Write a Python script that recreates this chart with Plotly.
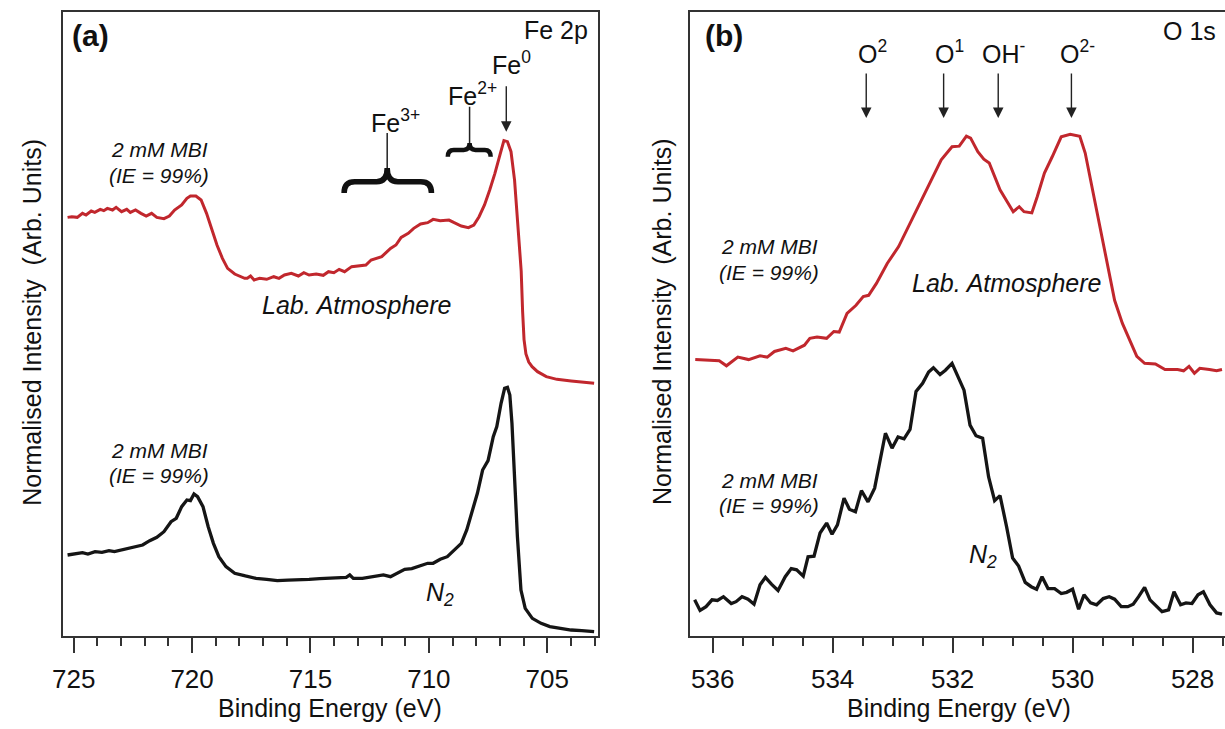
import plotly.graph_objects as go

# ---------------- data ----------------
# Fe 2p region (binding energy in eV, normalised intensity in arbitrary units)
fe_air_be = [725.26, 725.08, 724.85, 724.63, 724.48, 724.26, 724.11, 723.88, 723.73, 723.58,
             723.36, 723.21, 722.98, 722.76, 722.61, 722.39, 722.16, 721.94, 721.71, 721.49,
             721.19, 720.96, 720.74, 720.44, 720.22, 720.07, 719.84, 719.62, 719.39, 719.17,
             718.95, 718.72, 718.50, 718.20, 717.97, 717.78, 717.67, 717.53, 717.38, 717.15,
             716.85, 716.55, 716.33, 716.10, 715.81, 715.51, 715.28, 715.06, 714.76, 714.46,
             714.24, 714.01, 713.79, 713.56, 713.26, 712.96, 712.66, 712.44, 712.22, 711.99,
             711.62, 711.39, 711.17, 710.87, 710.64, 710.35, 710.05, 709.82, 709.52, 709.15,
             708.93, 708.63, 708.33, 708.10, 707.88, 707.65, 707.43, 707.21, 706.98, 706.83,
             706.68, 706.53, 706.38, 706.23, 706.10, 706.04, 705.98, 705.90, 705.78, 705.64,
             705.41, 705.04, 704.59, 703.99, 703.54, 703.02]
fe_air_int = [67.09, 67.20, 67.09, 67.73, 67.46, 68.11, 67.89, 68.37, 68.16, 68.53,
              68.27, 68.69, 68.00, 68.37, 67.89, 68.27, 67.73, 67.30, 67.73, 67.09,
              66.88, 67.30, 68.27, 69.07, 70.14, 70.51, 70.51, 69.87, 67.73, 65.06,
              62.66, 60.52, 58.92, 58.01, 57.69, 57.32, 57.32, 57.69, 57.05, 57.32,
              57.16, 57.58, 57.32, 57.85, 58.12, 57.69, 58.22, 57.85, 58.01, 57.80,
              58.38, 58.22, 58.76, 58.38, 59.19, 59.29, 59.45, 60.25, 60.52, 60.79,
              62.12, 62.66, 63.89, 64.53, 65.33, 66.02, 66.24, 66.77, 66.56, 66.66,
              66.24, 65.70, 65.44, 65.86, 67.20, 69.07, 71.47, 74.14, 77.35, 79.38,
              79.22, 77.61, 73.07, 65.60, 58.50, 52.00, 47.50, 45.20, 43.90, 43.16,
              42.36, 41.56, 41.13, 40.87, 40.65, 40.49]

fe_n2_be = [725.26, 724.93, 724.63, 724.40, 724.10, 723.81, 723.51, 723.28, 722.98, 722.69,
            722.39, 722.09, 721.79, 721.49, 721.19, 720.89, 720.67, 720.44, 720.22, 720.07,
            719.92, 719.77, 719.54, 719.32, 719.10, 718.87, 718.57, 718.20, 717.75, 717.30,
            716.85, 716.40, 715.95, 715.51, 715.06, 714.61, 714.01, 713.49, 713.34, 713.19,
            712.81, 712.37, 711.92, 711.62, 711.32, 711.02, 710.72, 710.35, 710.05, 709.82,
            709.52, 709.22, 708.93, 708.63, 708.40, 708.18, 707.95, 707.73, 707.50, 707.28,
            707.13, 706.95, 706.80, 706.68, 706.58, 706.49, 706.38, 706.26, 706.11, 705.93,
            705.63, 705.26, 704.89, 704.44, 703.99, 703.54, 703.02]
fe_n2_int = [12.98, 13.25, 13.36, 13.14, 13.52, 13.41, 13.68, 13.52, 13.78, 14.05,
             14.32, 14.58, 15.28, 15.81, 16.72, 18.32, 18.86, 20.73, 21.80, 21.69,
             22.76, 22.33, 20.73, 17.52, 14.85, 12.71, 11.11, 10.04, 9.62, 9.24,
             9.08, 8.87, 8.97, 8.97, 9.08, 9.19, 9.24, 9.40, 9.78, 9.24,
             9.24, 9.51, 9.78, 9.51, 10.15, 10.68, 10.79, 11.22, 11.65, 11.65,
             12.29, 12.71, 13.68, 14.85, 16.99, 19.93, 22.87, 26.60, 28.10, 31.95,
             33.55, 37.29, 39.69, 39.85, 38.62, 34.08, 25.00, 15.92, 7.37, 4.43,
             2.83, 2.03, 1.50, 1.23, 0.96, 0.86, 0.70]

# O 1s region
o_air_be = [536.29, 536.11, 535.89, 535.77, 535.58, 535.40, 535.21, 535.09, 534.97, 534.78,
            534.66, 534.47, 534.38, 534.26, 534.10, 533.98, 533.89, 533.76, 533.61, 533.49,
            533.40, 533.27, 533.09, 532.90, 532.68, 532.53, 532.38, 532.19, 532.01, 531.89,
            531.77, 531.70, 531.58, 531.48, 531.39, 531.21, 530.99, 530.89, 530.81, 530.68,
            530.59, 530.47, 530.34, 530.19, 530.04, 529.88, 529.79, 529.70, 529.57, 529.42,
            529.30, 529.17, 529.05, 528.93, 528.80, 528.62, 528.46, 528.25, 528.15, 528.06,
            527.97, 527.88, 527.72, 527.60, 527.51]
o_air_int = [44.3, 44.2, 44.1, 43.3, 44.7, 44.3, 44.9, 44.7, 45.6, 46.1,
             45.7, 46.6, 47.7, 47.9, 47.7, 48.8, 48.7, 51.7, 53.0, 54.4,
             54.6, 56.5, 59.7, 62.4, 66.7, 69.9, 72.8, 76.3, 78.4, 78.5,
             80.1, 79.8, 77.6, 76.4, 75.8, 71.5, 68.0, 68.8, 68.0, 67.8,
             70.4, 74.2, 76.8, 80.0, 80.4, 80.1, 77.4, 73.1, 67.2, 59.7,
             53.8, 50.1, 47.4, 44.8, 43.7, 43.6, 42.7, 42.7, 42.5, 43.2,
             42.1, 42.9, 42.7, 42.5, 42.7]

o_n2_be = [536.30, 536.21, 536.11, 536.01, 535.92, 535.82, 535.69, 535.61, 535.51, 535.41,
           535.31, 535.21, 535.12, 535.02, 534.91, 534.79, 534.69, 534.60, 534.49, 534.41,
           534.31, 534.21, 534.10, 534.01, 533.92, 533.81, 533.72, 533.62, 533.52, 533.41,
           533.30, 533.21, 533.12, 533.01, 532.91, 532.81, 532.71, 532.61, 532.50, 532.40,
           532.32, 532.21, 532.12, 532.01, 531.91, 531.81, 531.71, 531.61, 531.50, 531.40,
           531.30, 531.21, 531.10, 531.00, 530.90, 530.79, 530.69, 530.60, 530.51, 530.41,
           530.30, 530.19, 530.10, 530.00, 529.90, 529.81, 529.70, 529.60, 529.49, 529.39,
           529.30, 529.19, 529.08, 528.99, 528.90, 528.80, 528.71, 528.62, 528.51, 528.40,
           528.31, 528.20, 528.11, 528.01, 527.91, 527.82, 527.71, 527.60, 527.51]
o_n2_int = [5.8, 4.1, 4.7, 5.8, 5.7, 6.3, 5.2, 5.5, 6.3, 5.9,
            5.1, 8.2, 9.4, 8.3, 7.3, 9.5, 10.8, 10.6, 9.6, 12.7,
            12.8, 16.5, 18.1, 16.3, 17.8, 22.1, 20.3, 19.9, 23.3, 21.5,
            23.7, 28.2, 32.5, 30.1, 31.9, 31.6, 33.1, 39.2, 40.5, 42.3,
            43.0, 41.9, 42.6, 43.7, 41.6, 39.4, 33.8, 32.1, 31.7, 25.5,
            21.7, 22.5, 17.5, 12.5, 11.2, 8.6, 7.9, 7.5, 9.5, 7.6,
            7.6, 6.8, 7.0, 7.5, 4.3, 6.6, 5.3, 5.0, 6.0, 6.3,
            5.9, 4.7, 4.7, 5.1, 6.3, 7.8, 5.8, 5.0, 3.9, 4.2,
            7.1, 5.0, 5.3, 5.2, 6.6, 7.1, 5.0, 3.7, 3.5]

# peak markers
fe0_be = 706.73
fe2_be = 708.28
fe2_span = (709.20, 707.39)
fe3_be = 711.76
fe3_span = (713.58, 709.89)
o_marker_be = [533.44, 532.15, 531.24, 530.02]
o_marker_text = ["O<sup>2</sup>", "O<sup>1</sup>", "OH<sup>-</sup>", "O<sup>2-</sup>"]

# ---------------- styling ----------------
W, H = 1225, 729
FONT = "Liberation Sans, Arial, Helvetica, sans-serif"
RED = "#c1272d"
BLACK = "#151515"
AXC = "#333333"


def px(x, y):
    return x / W, 1 - y / H


fig = go.Figure()
fig.add_trace(go.Scatter(x=fe_air_be, y=fe_air_int, mode="lines",
                         line=dict(color=RED, width=3), xaxis="x", yaxis="y"))
fig.add_trace(go.Scatter(x=fe_n2_be, y=fe_n2_int, mode="lines",
                         line=dict(color=BLACK, width=3.3), xaxis="x", yaxis="y"))
fig.add_trace(go.Scatter(x=o_air_be, y=o_air_int, mode="lines",
                         line=dict(color=RED, width=3), xaxis="x2", yaxis="y2"))
fig.add_trace(go.Scatter(x=o_n2_be, y=o_n2_int, mode="lines",
                         line=dict(color=BLACK, width=3.3), xaxis="x2", yaxis="y2"))

ydom = [1 - 636 / H, 1 - 12 / H]
tickfont = dict(family=FONT, size=26, color="#111")

xcommon = dict(showgrid=False, zeroline=False, showline=True, linecolor=AXC, linewidth=1.5,
               ticks="outside", ticklen=15, tickwidth=1.5, tickcolor=AXC, tickfont=tickfont,
               ticklabelstandoff=4, mirror=True)

fig.update_layout(
    width=W, height=H, margin=dict(l=0, r=0, t=0, b=0),
    paper_bgcolor="white", plot_bgcolor="white", showlegend=False,
    xaxis=dict(domain=[52.3 / W, 592.7 / W], range=[725.46, 702.84], tick0=705, dtick=5,
               minor=dict(dtick=1, ticks="outside", ticklen=8, tickwidth=1.5, tickcolor=AXC),
               anchor="y", **xcommon),
    yaxis=dict(domain=ydom, range=[0, 100], showticklabels=False, ticks="", showgrid=False,
               zeroline=False, showline=True, linecolor=AXC, linewidth=1.5, mirror=True,
               anchor="x"),
    xaxis2=dict(domain=[685 / W, 1.0], range=[536.38, 527.46], tick0=528, dtick=2,
                minor=dict(dtick=0.5, ticks="outside", ticklen=8, tickwidth=1.5, tickcolor=AXC),
                anchor="y2", **xcommon),
    yaxis2=dict(domain=ydom, range=[0, 100], showticklabels=False, ticks="", showgrid=False,
                zeroline=False, showline=True, linecolor=AXC, linewidth=1.5, mirror=False,
                anchor="x2"),
)

ann = []


def text(x, y, s, size=25, italic=False, bold=False, xanchor="center", angle=0):
    if italic:
        s = "<i>" + s + "</i>"
    if bold:
        s = "<b>" + s + "</b>"
    xp, yp = px(x, y)
    ann.append(dict(x=xp, y=yp, xref="paper", yref="paper", text=s, showarrow=False,
                    xanchor=xanchor, yanchor="middle", textangle=angle,
                    font=dict(family=FONT, size=size, color="#111")))


# axis titles
ytitle = "Normalised Intensity\u00a0\u00a0(Arb. Units)"
text(21, 322, ytitle, angle=-90)
text(657, 322, ytitle, angle=-90)
text(322, 708, "Binding Energy (eV)")
text(957, 708, "Binding Energy (eV)")

# panel (a)
text(80, 35, "(a)", size=30, bold=True)
text(584, 30, "Fe 2p", xanchor="right")
text(505, 63, "Fe<sup>0</sup>")
text(466, 94, "Fe<sup>2+</sup>")
text(388, 121, "Fe<sup>3+</sup>")
text(150, 150, "2 mM MBI", size=21, italic=True)
text(149, 175, "(IE = 99%)", size=21, italic=True)
text(349, 305, "Lab. Atmosphere", italic=True)
text(150, 450, "2 mM MBI", size=21, italic=True)
text(149, 475, "(IE = 99%)", size=21, italic=True)
text(433, 594, "N<sub>2</sub>", italic=True)

# panel (b)
text(719, 35, "(b)", size=30, bold=True)
text(1218, 31, "O 1s", xanchor="right")
text(765, 247, "2 mM MBI", size=21, italic=True)
text(765, 272, "(IE = 99%)", size=21, italic=True)
text(1005, 283, "Lab. Atmosphere", italic=True)
text(765, 480, "2 mM MBI", size=21, italic=True)
text(765, 505, "(IE = 99%)", size=21, italic=True)
text(981, 556, "N<sub>2</sub>", italic=True)

# arrows
arrow = dict(showarrow=True, text="", arrowhead=2, arrowsize=1.5, arrowwidth=1.4,
             arrowcolor="#222", axref="pixel", ayref="pixel", ax=0)
ann.append(dict(x=fe0_be, y=80.8, xref="x", yref="y", ay=-47, **arrow))
for be, lab in zip(o_marker_be, o_marker_text):
    ann.append(dict(x=be, y=83.0, xref="x2", yref="y2", ay=-46, **arrow))
    ann.append(dict(x=be, y=93.6, xref="x2", yref="y2", text=lab, showarrow=False,
                    xshift=6, xanchor="center", yanchor="middle",
                    font=dict(family=FONT, size=25, color="#111")))

fig.update_layout(annotations=ann)

# leader lines and braces for the oxidised iron states
shapes = [
    dict(type="line", xref="x", yref="y", x0=fe2_be, x1=fe2_be, y0=79.0, y1=84.8,
         line=dict(color="#222", width=1.5)),
    dict(type="line", xref="x", yref="y", x0=fe3_be, x1=fe3_be, y0=75.0, y1=80.6,
         line=dict(color="#222", width=1.5)),
]


def brace(xl, xr, xm, ytip, ybar, yend, q, width):
    s = -1 if xr < xl else 1
    path = (f"M {xl},{yend} Q {xl},{ybar} {xl + s * q},{ybar} "
            f"L {xm - s * q},{ybar} Q {xm},{ybar} {xm},{ytip} "
            f"Q {xm},{ybar} {xm + s * q},{ybar} "
            f"L {xr - s * q},{ybar} Q {xr},{ybar} {xr},{yend}")
    return dict(type="path", xref="x", yref="y", path=path,
                line=dict(color="#111", width=width))


shapes.append(brace(fe3_span[0], fe3_span[1], fe3_be, 75.0, 72.8, 71.0, 0.45, 5.5))
shapes.append(brace(fe2_span[0], fe2_span[1], fe2_be, 79.0, 77.9, 76.8, 0.25, 4.5))
fig.update_layout(shapes=shapes)

fig.write_html("out.html")
